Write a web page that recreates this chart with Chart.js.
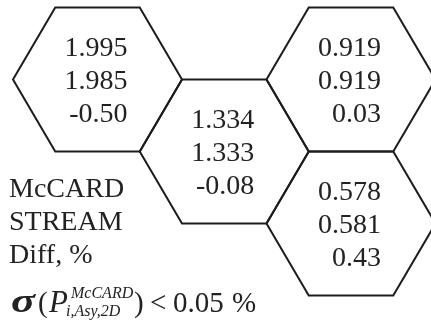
<!DOCTYPE html>
<html>
<head>
<meta charset="utf-8">
<script src="https://cdn.jsdelivr.net/npm/chart.js@4.4.0/dist/chart.umd.min.js"></script>
<style>
  html, body { margin: 0; padding: 0; background: #fff; }
  #wrap { width: 431px; height: 325px; }
</style>
</head>
<body>
<div id="wrap"><canvas id="hexChart" width="431" height="325"></canvas></div>
<script>
// hex cells: column / row in a flat-top hex grid (odd column shifted half a row)
const cellCol = [0, 1, 2, 2];
const cellRow = [0, 0.5, 0, 1];
// values per cell
const mcardVals = [1.995, 1.334, 0.919, 0.578];
const streamVals = [1.985, 1.333, 0.919, 0.581];
const diffVals = [-0.50, -0.08, 0.03, 0.43];
// legend rows at the left
const rowLabels = ['McCARD', 'STREAM', 'Diff, %'];

const SQ3 = Math.sqrt(3);
const lineColor = '#1c1c1c';
const textColor = '#222';
const serif = '"Liberation Serif", "Times New Roman", serif';

function hexCenter(i) {
    return { x: cellCol[i] * 1.5, y: cellRow[i] * SQ3 };
}

// one closed outline dataset per cell (unit radius hexagon)
const hexSets = cellCol.map((c, i) => {
    const ctr = hexCenter(i);
    const pts = [];
    for (let k = 0; k <= 6; k++) {
        const a = Math.PI / 3 * k;
        pts.push({ x: ctr.x + Math.cos(a), y: ctr.y + Math.sin(a) });
    }
    return {
        data: pts,
        showLine: true,
        borderColor: lineColor,
        borderWidth: 2,
        pointRadius: 0,
        fill: false,
        tension: 0
    };
});

const textPlugin = {
    id: 'hexText',
    afterDatasetsDraw(chart) {
        const ctx = chart.ctx;
        const xs = chart.scales.x, ys = chart.scales.y;
        ctx.save();
        ctx.fillStyle = textColor;
        ctx.font = '28px ' + serif;
        ctx.textAlign = 'right';
        ctx.textBaseline = 'alphabetic';
        cellCol.forEach((c, i) => {
            const ctr = hexCenter(i);
            const px = xs.getPixelForValue(ctr.x) + 30;
            const py = ys.getPixelForValue(ctr.y);
            const lines = [mcardVals[i].toFixed(3), streamVals[i].toFixed(3), diffVals[i].toFixed(2)];
            lines.forEach((t, j) => ctx.fillText(t, px, py + (j - 1) * 33 + 10));
        });

        // row legend on the left
        ctx.textAlign = 'left';
        rowLabels.forEach((t, j) => ctx.fillText(t, 9, 197 + j * 33));

        // sigma(P^McCARD_{i,Asy,2D}) < 0.05 %
        const base = 312;
        ctx.save();
        ctx.translate(11, base);
        ctx.scale(1.35, 1);
        ctx.font = 'italic bold 33px ' + serif;
        ctx.fillText('σ', 0, 0);
        ctx.restore();
        ctx.font = '29px ' + serif;
        ctx.fillText('(', 38, base);
        ctx.font = 'italic 31px ' + serif;
        ctx.fillText('P', 49, base);
        ctx.font = 'italic 16px ' + serif;
        ctx.fillText('McCARD', 71, base - 14);
        ctx.fillText('i,Asy,2D', 66, base + 4);
        ctx.font = '29px ' + serif;
        ctx.fillText(')', 134, base);
        ctx.fillText('<', 150, base);
        ctx.fillText('0.05', 173, base);
        ctx.fillText('%', 232, base);
        ctx.restore();
    }
};

new Chart(document.getElementById('hexChart'), {
    type: 'scatter',
    data: { datasets: hexSets },
    options: {
        responsive: false,
        animation: false,
        layout: { padding: 0 },
        plugins: { legend: { display: false }, tooltip: { enabled: false } },
        scales: {
            x: { type: 'linear', display: false, min: -1.1538, max: 3.9467 },
            y: { type: 'linear', display: false, reverse: true, min: -0.9562, max: 2.953 }
        }
    },
    plugins: [textPlugin]
});
</script>
</body>
</html>
